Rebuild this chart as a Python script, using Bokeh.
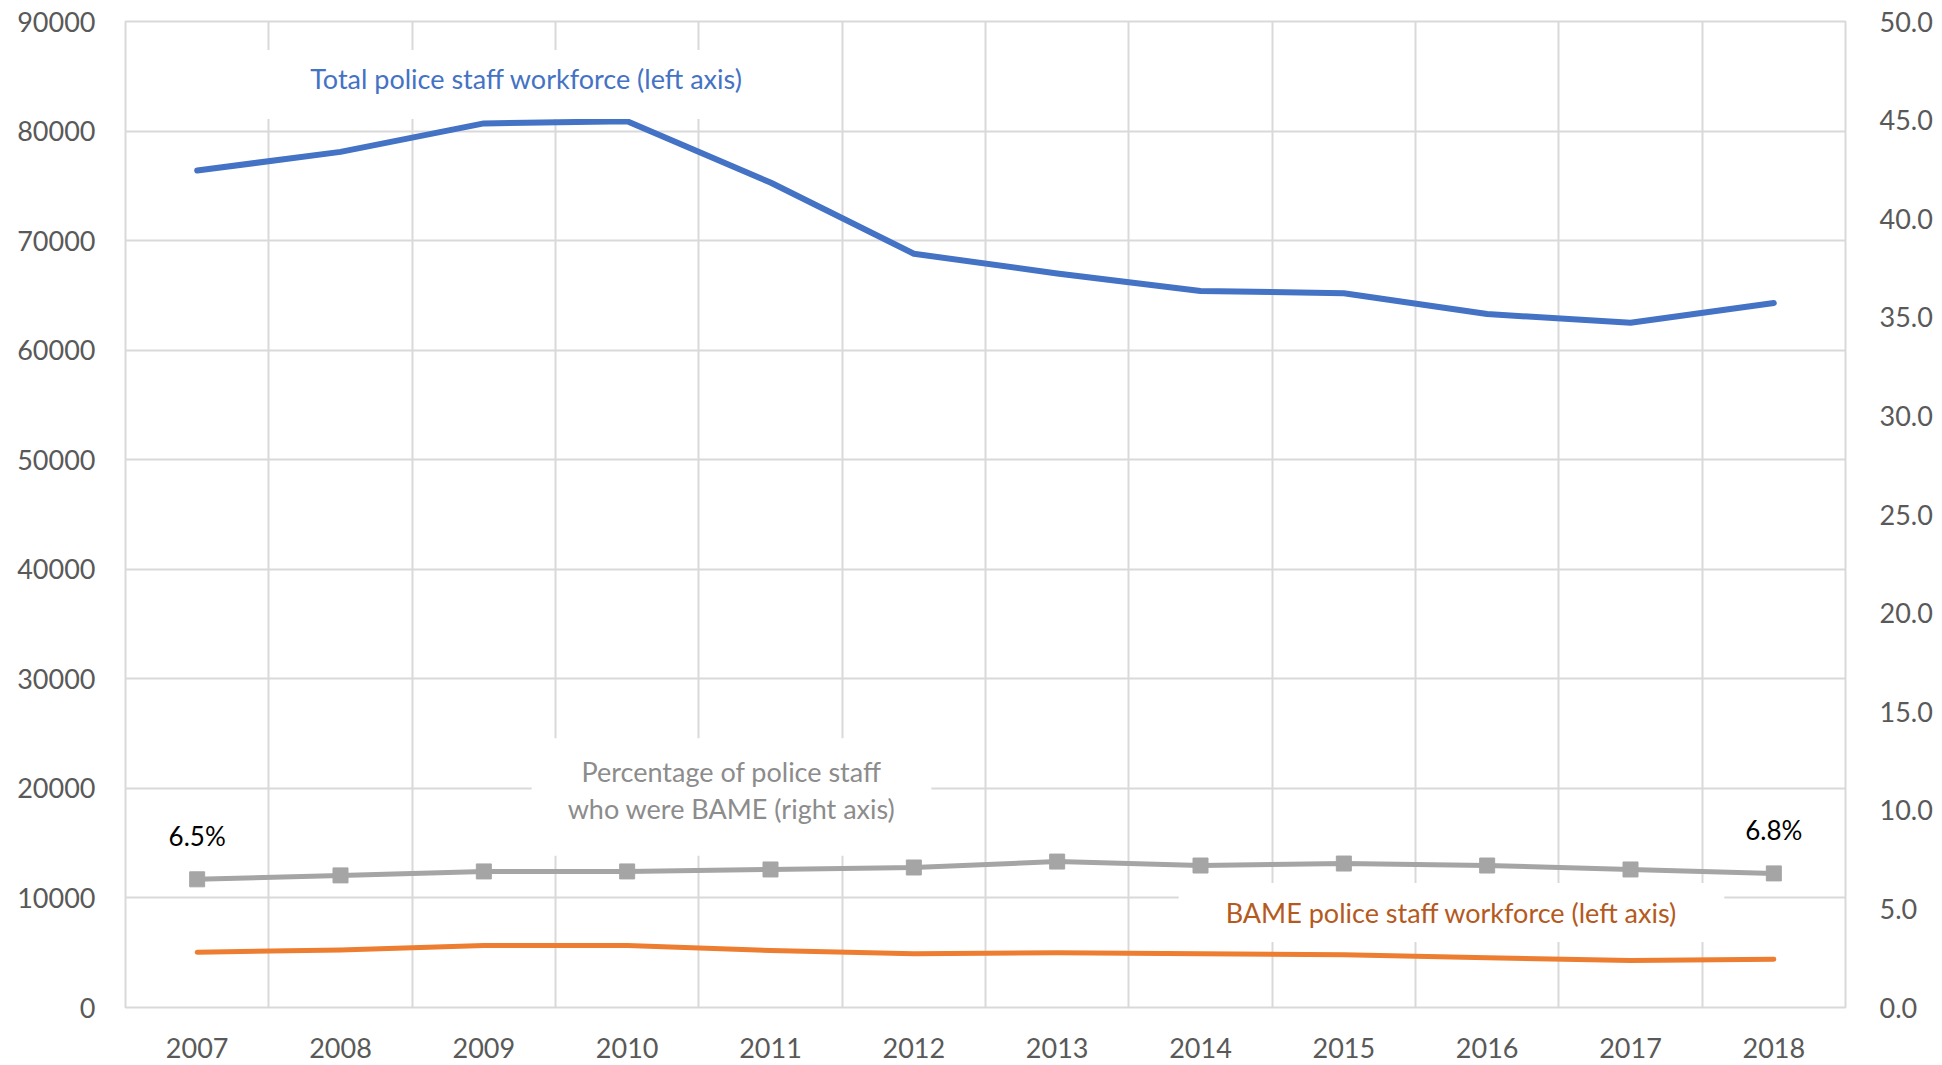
from bokeh.plotting import figure
from bokeh.models import Range1d, LinearAxis, FixedTicker, Label, ColumnDataSource, PrintfTickFormatter
from bokeh.embed import file_html
from bokeh.resources import INLINE
from bokeh.core.properties import value

# ---- data ----
years = [2007, 2008, 2009, 2010, 2011, 2012, 2013, 2014, 2015, 2016, 2017, 2018]
total_staff = [76400, 78100, 80700, 80900, 75300, 68800, 67000, 65400, 65200, 63300, 62500, 64300]
bame_staff = [5050, 5250, 5650, 5650, 5200, 4900, 4990, 4900, 4810, 4540, 4290, 4410]
bame_pct = [6.5, 6.7, 6.9, 6.9, 7.0, 7.1, 7.4, 7.2, 7.3, 7.2, 7.0, 6.8]
left_ticks = [0, 10000, 20000, 30000, 40000, 50000, 60000, 70000, 80000, 90000]
right_ticks = [0, 5, 10, 15, 20, 25, 30, 35, 40, 45, 50]

FONT = "Lato"
TICK_COLOR = "#595959"
GRID = "#D9D9D9"

xs = list(range(len(years)))

p = figure(width=1942, height=1065,
           x_range=Range1d(-0.5, len(years) - 0.5),
           y_range=Range1d(left_ticks[0], left_ticks[-1]),
           output_backend="svg", toolbar_location=None,
           min_border_left=125, min_border_right=97,
           min_border_top=21, min_border_bottom=58)
p.extra_y_ranges = {"pct": Range1d(right_ticks[0], right_ticks[-1])}

p.background_fill_color = "white"
p.border_fill_color = "white"
p.outline_line_color = GRID
p.outline_line_width = 2

# grid
p.xgrid.ticker = FixedTicker(ticks=[i - 0.5 for i in range(len(years) + 1)])
p.ygrid.ticker = FixedTicker(ticks=left_ticks)
for g in (p.xgrid, p.ygrid):
    g.grid_line_color = GRID
    g.grid_line_width = 2

# axes
p.xaxis.ticker = FixedTicker(ticks=xs)
p.xaxis.major_label_overrides = {i: str(y) for i, y in zip(xs, years)}
p.yaxis.ticker = FixedTicker(ticks=left_ticks)
p.yaxis.formatter = PrintfTickFormatter(format="%d")

raxis = LinearAxis(y_range_name="pct", ticker=FixedTicker(ticks=right_ticks),
                   formatter=PrintfTickFormatter(format="%.1f"))
p.add_layout(raxis, "right")

for ax in (p.xaxis[0], p.yaxis[0], raxis):
    ax.axis_line_color = None
    ax.major_tick_line_color = None
    ax.minor_tick_line_color = None
    ax.major_label_text_font = FONT
    ax.major_label_text_font_size = "27px"
    ax.major_label_text_color = TICK_COLOR
p.xaxis.major_label_standoff = 24
p.yaxis.major_label_standoff = 24
raxis.major_label_standoff = 28

# series
p.line(xs, total_staff, line_color="#4472C4", line_width=6, line_join="round", line_cap="round")
p.line(xs, bame_staff, line_color="#ED7D31", line_width=5, line_join="round", line_cap="round")
p.line(xs, bame_pct, line_color="#A5A5A5", line_width=5, line_join="round", y_range_name="pct")
p.scatter(xs, bame_pct, marker="square", size=15, fill_color="#A5A5A5", line_color="#A5A5A5",
          y_range_name="pct")

# end-point percentage labels
end_src = ColumnDataSource(dict(x=[xs[0], xs[-1]], y=[bame_pct[0], bame_pct[-1]],
                                t=[f"{bame_pct[0]:.1f}%", f"{bame_pct[-1]:.1f}%"]))
p.text(x="x", y="y", text="t", source=end_src, y_range_name="pct", y_offset=-43,
       text_align="center", text_baseline="middle", text_font=value(FONT),
       text_font_size="26px", text_color="#000000")

# series annotations with white boxes
p.add_layout(Label(x=2.298, y=84246, text="Total police staff workforce (left axis)",
                   text_align="center", text_baseline="middle", text_font=FONT,
                   text_font_size="27px", text_color="#4472C4",
                   background_fill_color="white",
                   padding=dict(left=45, right=45, top=12, bottom=24)))
p.add_layout(Label(x=3.728, y=19213, text="Percentage of police staff\nwho were BAME (right axis)",
                   text_align="center", text_baseline="middle", text_font=FONT,
                   text_font_size="27px", text_color="#8C8C8C", text_line_height=1.1,
                   background_fill_color="white",
                   padding=dict(left=36, right=36, top=17, bottom=31)))
p.add_layout(Label(x=8.751, y=8671, text="BAME police staff workforce (left axis)",
                   text_align="center", text_baseline="middle", text_font=FONT,
                   text_font_size="27px", text_color="#B55A1E",
                   background_fill_color="white",
                   padding=dict(left=47, right=47, top=13, bottom=13)))

open("out.html", "w").write(file_html(p, INLINE))
